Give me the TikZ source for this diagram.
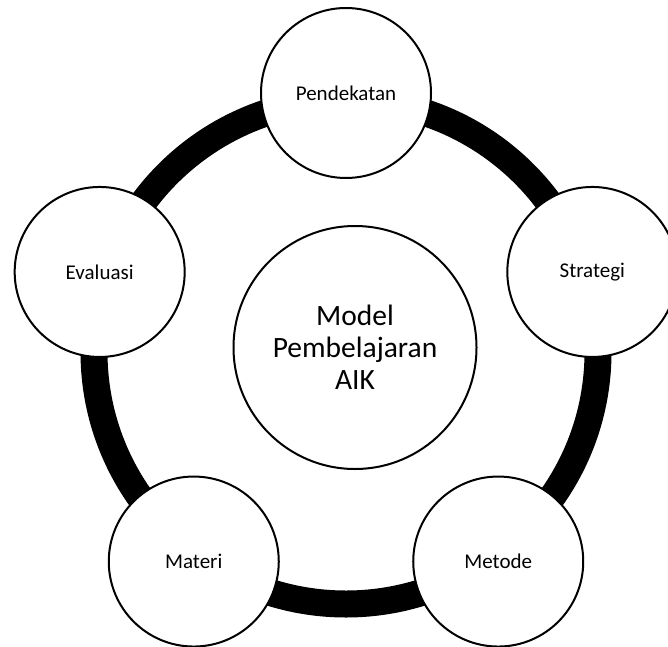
\documentclass[tikz,border=0pt]{standalone}
\usepackage{fontspec}
\setmainfont{Carlito}
\begin{document}
\begin{tikzpicture}[x=1pt,y=1pt,
  sat/.style={circle,draw=black,fill=white,line width=2pt,minimum size=170pt,inner sep=0pt,font=\fontsize{21}{25}\selectfont},
  hub/.style={circle,draw=black,fill=white,line width=2pt,minimum size=243pt,inner sep=0pt,align=center,font=\fontsize{29.5}{32}\selectfont},
  ring/.style={draw=black,line width=27pt}]
\clip (0,0) rectangle (668,646);
\useasboundingbox (0,0) rectangle (668,646);
\coordinate (c) at (346,294);
\draw[ring] (c) circle[radius=252];
\node[sat] (pend) at ([shift={(90:259)}]c) {Pendekatan};
\node[sat] (stra) at ([shift={(18:259)}]c) {Strategi};
\node[sat] (meto) at ([shift={(-54:259)}]c) {Metode};
\node[sat] (mate) at ([shift={(234:259)}]c) {Materi};
\node[sat] (eval) at ([shift={(162:259)}]c) {Evaluasi};
\node[hub] (model) at (355,298.5) {Model\\Pembelajaran\\AIK};
\end{tikzpicture}
\end{document}
